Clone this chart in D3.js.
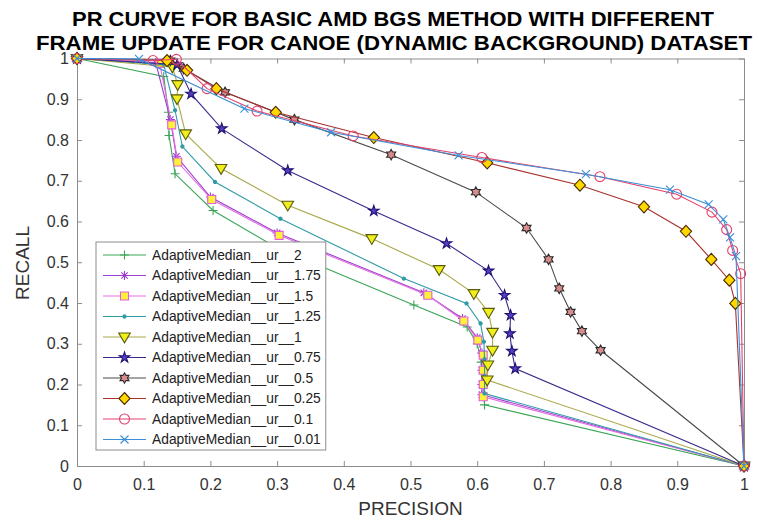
<!DOCTYPE html>
<html>
<head>
<meta charset="utf-8">
<script src="https://cdn.jsdelivr.net/npm/d3@7"></script>
<style>
  body { margin: 0; background: #fff; }
  svg { font-family: "Liberation Sans", Arial, sans-serif; }
</style>
</head>
<body>
<svg id="chart"></svg>
<script>
// Series names (legend order)
const seriesNames = [
  "AdaptiveMedian__ur__2", "AdaptiveMedian__ur__1.75", "AdaptiveMedian__ur__1.5",
  "AdaptiveMedian__ur__1.25", "AdaptiveMedian__ur__1", "AdaptiveMedian__ur__0.75",
  "AdaptiveMedian__ur__0.5", "AdaptiveMedian__ur__0.25", "AdaptiveMedian__ur__0.1",
  "AdaptiveMedian__ur__0.01"
];

// precision / recall
const precision_ur2   = [0, 0.130, 0.137, 0.138, 0.147, 0.204, 0.300, 0.505, 0.585, 0.600, 0.606, 0.609, 0.611, 1];
const recall_ur2      = [1, 0.956, 0.868, 0.811, 0.717, 0.627, 0.535, 0.395, 0.341, 0.300, 0.255, 0.200, 0.150, 0];
const precision_ur175 = [0, 0.118, 0.140, 0.149, 0.200, 0.300, 0.520, 0.578, 0.600, 0.607, 0.607, 0.607, 0.607, 1];
const recall_ur175    = [1, 0.990, 0.850, 0.760, 0.660, 0.572, 0.425, 0.362, 0.315, 0.277, 0.235, 0.200, 0.175, 0];
const precision_ur15  = [0, 0.124, 0.142, 0.151, 0.202, 0.303, 0.526, 0.580, 0.601, 0.609, 0.609, 0.609, 0.609, 1];
const recall_ur15     = [1, 0.988, 0.837, 0.746, 0.654, 0.566, 0.419, 0.356, 0.309, 0.272, 0.235, 0.200, 0.170, 0];
const precision_ur125 = [0, 0.130, 0.147, 0.158, 0.207, 0.305, 0.490, 0.584, 0.605, 0.610, 0.611, 0.611, 0.611, 1];
const recall_ur125    = [1, 0.985, 0.873, 0.784, 0.697, 0.607, 0.460, 0.399, 0.350, 0.305, 0.262, 0.220, 0.178, 0];
const precision_ur1   = [0, 0.143, 0.151, 0.150, 0.163, 0.216, 0.316, 0.442, 0.543, 0.595, 0.617, 0.623, 0.623, 0.616, 0.615, 1];
const recall_ur1      = [1, 0.979, 0.936, 0.901, 0.815, 0.730, 0.640, 0.558, 0.482, 0.423, 0.377, 0.328, 0.284, 0.248, 0.211, 0];
const precision_ur075 = [0, 0.150, 0.171, 0.217, 0.316, 0.445, 0.554, 0.617, 0.641, 0.650, 0.649, 0.652, 0.657, 1];
const recall_ur075    = [1, 0.985, 0.913, 0.828, 0.725, 0.626, 0.546, 0.479, 0.419, 0.370, 0.325, 0.282, 0.239, 0];
const precision_ur05  = [0, 0.140, 0.160, 0.222, 0.326, 0.471, 0.598, 0.674, 0.707, 0.723, 0.740, 0.757, 0.785, 1];
const recall_ur05     = [1, 0.995, 0.975, 0.917, 0.850, 0.764, 0.672, 0.584, 0.507, 0.436, 0.378, 0.331, 0.284, 0];
const precision_ur025 = [0, 0.135, 0.165, 0.209, 0.298, 0.445, 0.615, 0.754, 0.850, 0.913, 0.951, 0.978, 0.987, 1];
const recall_ur025    = [1, 0.995, 0.971, 0.926, 0.868, 0.806, 0.744, 0.689, 0.636, 0.576, 0.507, 0.456, 0.399, 0];
const precision_ur01  = [0, 0.114, 0.149, 0.195, 0.270, 0.414, 0.607, 0.784, 0.899, 0.952, 0.974, 0.983, 0.995, 1];
const recall_ur01     = [1, 0.995, 0.998, 0.926, 0.871, 0.810, 0.757, 0.710, 0.667, 0.623, 0.580, 0.529, 0.472, 0];
const precision_ur001 = [0, 0.093, 0.251, 0.381, 0.572, 0.763, 0.889, 0.947, 0.969, 0.979, 0.988, 1];
const recall_ur001    = [1, 0.999, 0.877, 0.819, 0.762, 0.716, 0.678, 0.642, 0.605, 0.561, 0.515, 0];

const precisionData = [precision_ur2, precision_ur175, precision_ur15, precision_ur125, precision_ur1,
  precision_ur075, precision_ur05, precision_ur025, precision_ur01, precision_ur001];
const recallData = [recall_ur2, recall_ur175, recall_ur15, recall_ur125, recall_ur1,
  recall_ur075, recall_ur05, recall_ur025, recall_ur01, recall_ur001];

const xTicks = [0, 0.1, 0.2, 0.3, 0.4, 0.5, 0.6, 0.7, 0.8, 0.9, 1];
const xTickLabels = ["0", "0.1", "0.2", "0.3", "0.4", "0.5", "0.6", "0.7", "0.8", "0.9", "1"];
const yTicks = [0, 0.1, 0.2, 0.3, 0.4, 0.5, 0.6, 0.7, 0.8, 0.9, 1];
const yTickLabels = ["0", "0.1", "0.2", "0.3", "0.4", "0.5", "0.6", "0.7", "0.8", "0.9", "1"];

// styling
const lineColors   = ["#3aa655", "#9b3fd0", "#e36fe0", "#2e9aa6", "#a9a84a", "#3a2a8c", "#4a4a4a", "#a8322e", "#e4406e", "#3b8fd8"];
const markerTypes  = ["plus", "asterisk", "square", "dot", "triangle", "star", "hexagram", "diamond", "circle", "x"];
const markerFills  = ["none", "none", "#fff03a", "#2e9aa6", "#f0ee1c", "#5b3cc4", "#d98c8c", "#ffd800", "none", "none"];
const markerStroke = ["#3aa655", "#9b3fd0", "#e25fd8", "#2e9aa6", "#5a5a10", "#1c1470", "#2a2a2a", "#4a2a00", "#e4406e", "#3b8fd8"];

const width = 758, height = 520;
const svg = d3.select("#chart").attr("width", width).attr("height", height);

const plotLeft = 77, plotRight = 744, plotTop = 58.5, plotBottom = 466;
const x = d3.scaleLinear().domain([0, 1]).range([plotLeft, plotRight]);
const y = d3.scaleLinear().domain([0, 1]).range([plotBottom, plotTop]);

// marker shapes
function markerPath(type) {
  switch (type) {
    case "plus": return "M-4.5,0H4.5M0,-4.5V4.5";
    case "asterisk": return "M-4.5,0H4.5M0,-4.5V4.5M-3.2,-3.2L3.2,3.2M-3.2,3.2L3.2,-3.2";
    case "square": return "M-4,-4H4V4H-4Z";
    case "dot": return d3.symbol(d3.symbolCircle, 8)();
    case "triangle": return "M-5.8,-4H5.8L0,5.8Z";
    case "star": return d3.symbol(d3.symbolStar, 34)();
    case "hexagram": {
      const pts = [];
      for (let i = 0; i < 12; i++) {
        const r = i % 2 === 0 ? 5.2 : 3;
        const a = Math.PI / 6 * i - Math.PI / 2;
        pts.push([r * Math.cos(a), r * Math.sin(a)]);
      }
      return "M" + pts.map(p => p.join(",")).join("L") + "Z";
    }
    case "diamond": return "M0,-6L5.6,0L0,6L-5.6,0Z";
    case "circle": return d3.symbol(d3.symbolCircle, 78)();
    case "x": return "M-4,-4L4,4M-4,4L4,-4";
  }
}

// axes
const axisColor = "#8c8c8c", labelColor = "#333";
function styleAxis(g) {
  g.selectAll("path.domain").attr("stroke", axisColor);
  g.selectAll(".tick line").attr("stroke", axisColor);
  g.selectAll(".tick text").attr("fill", labelColor).attr("font-size", 16);
}
svg.append("g").attr("transform", `translate(0,${plotBottom})`)
  .call(d3.axisBottom(x).tickValues(xTicks).tickFormat((d, i) => xTickLabels[i])
    .tickSizeInner(-5).tickSizeOuter(0).tickPadding(13))
  .call(styleAxis);
svg.append("g").attr("transform", `translate(0,${plotTop})`)
  .call(d3.axisTop(x).tickValues(xTicks).tickFormat("").tickSizeInner(-5).tickSizeOuter(0))
  .call(styleAxis);
svg.append("g").attr("transform", `translate(${plotLeft},0)`)
  .call(d3.axisLeft(y).tickValues(yTicks).tickFormat((d, i) => yTickLabels[i])
    .tickSizeInner(-5).tickSizeOuter(0).tickPadding(8))
  .call(styleAxis);
svg.append("g").attr("transform", `translate(${plotRight},0)`)
  .call(d3.axisRight(y).tickValues(yTicks).tickFormat("").tickSizeInner(-5).tickSizeOuter(0))
  .call(styleAxis);

// curves
const line = d3.line().x(d => x(d[0])).y(d => y(d[1]));
seriesNames.forEach((name, i) => {
  const pts = precisionData[i].map((p, j) => [p, recallData[i][j]]);
  const g = svg.append("g");
  g.append("path").datum(pts).attr("d", line)
    .attr("fill", "none").attr("stroke", lineColors[i]).attr("stroke-width", 1.1);
  g.selectAll("path.mk").data(pts).enter().append("path").attr("class", "mk")
    .attr("transform", d => `translate(${x(d[0])},${y(d[1])})`)
    .attr("d", markerPath(markerTypes[i]))
    .attr("fill", markerFills[i]).attr("stroke", markerStroke[i]).attr("stroke-width", 1.1);
});

// legend
const legend = svg.append("g");
const legBox = legend.append("rect").attr("x", 96).attr("y", 242).attr("height", 208)
  .attr("fill", "#fff").attr("stroke", "#8c8c8c");
let maxW = 0;
seriesNames.forEach((name, i) => {
  const ly = 255 + i * 20.5;
  legend.append("line").attr("x1", 103).attr("x2", 146).attr("y1", ly).attr("y2", ly)
    .attr("stroke", lineColors[i]).attr("stroke-width", 1.1);
  legend.append("path").attr("transform", `translate(124.5,${ly})`).attr("d", markerPath(markerTypes[i]))
    .attr("fill", markerFills[i]).attr("stroke", markerStroke[i]).attr("stroke-width", 1.1);
  const t = legend.append("text").attr("x", 152).attr("y", ly).attr("dy", "0.36em")
    .attr("font-size", 13.8).attr("fill", "#222").text(name);
  maxW = Math.max(maxW, t.node().getComputedTextLength());
});
legBox.attr("width", 152 + maxW + 5 - 96);

// titles
svg.append("text").attr("x", 72).attr("y", 25.5).attr("font-size", 21).attr("font-weight", "bold")
  .attr("textLength", 642).attr("lengthAdjust", "spacingAndGlyphs")
  .text("PR CURVE FOR BASIC AMD BGS METHOD WITH DIFFERENT");
svg.append("text").attr("x", 36).attr("y", 50).attr("font-size", 21).attr("font-weight", "bold")
  .attr("textLength", 716).attr("lengthAdjust", "spacingAndGlyphs")
  .text("FRAME  UPDATE FOR CANOE (DYNAMIC BACKGROUND) DATASET");
svg.append("text").attr("x", (plotLeft + plotRight) / 2).attr("y", 515).attr("text-anchor", "middle")
  .attr("font-size", 19).attr("fill", "#333").text("PRECISION");
svg.append("text").attr("transform", "translate(29,263) rotate(-90)").attr("text-anchor", "middle")
  .attr("font-size", 19).attr("fill", "#333").text("RECALL");
</script>
</body>
</html>
